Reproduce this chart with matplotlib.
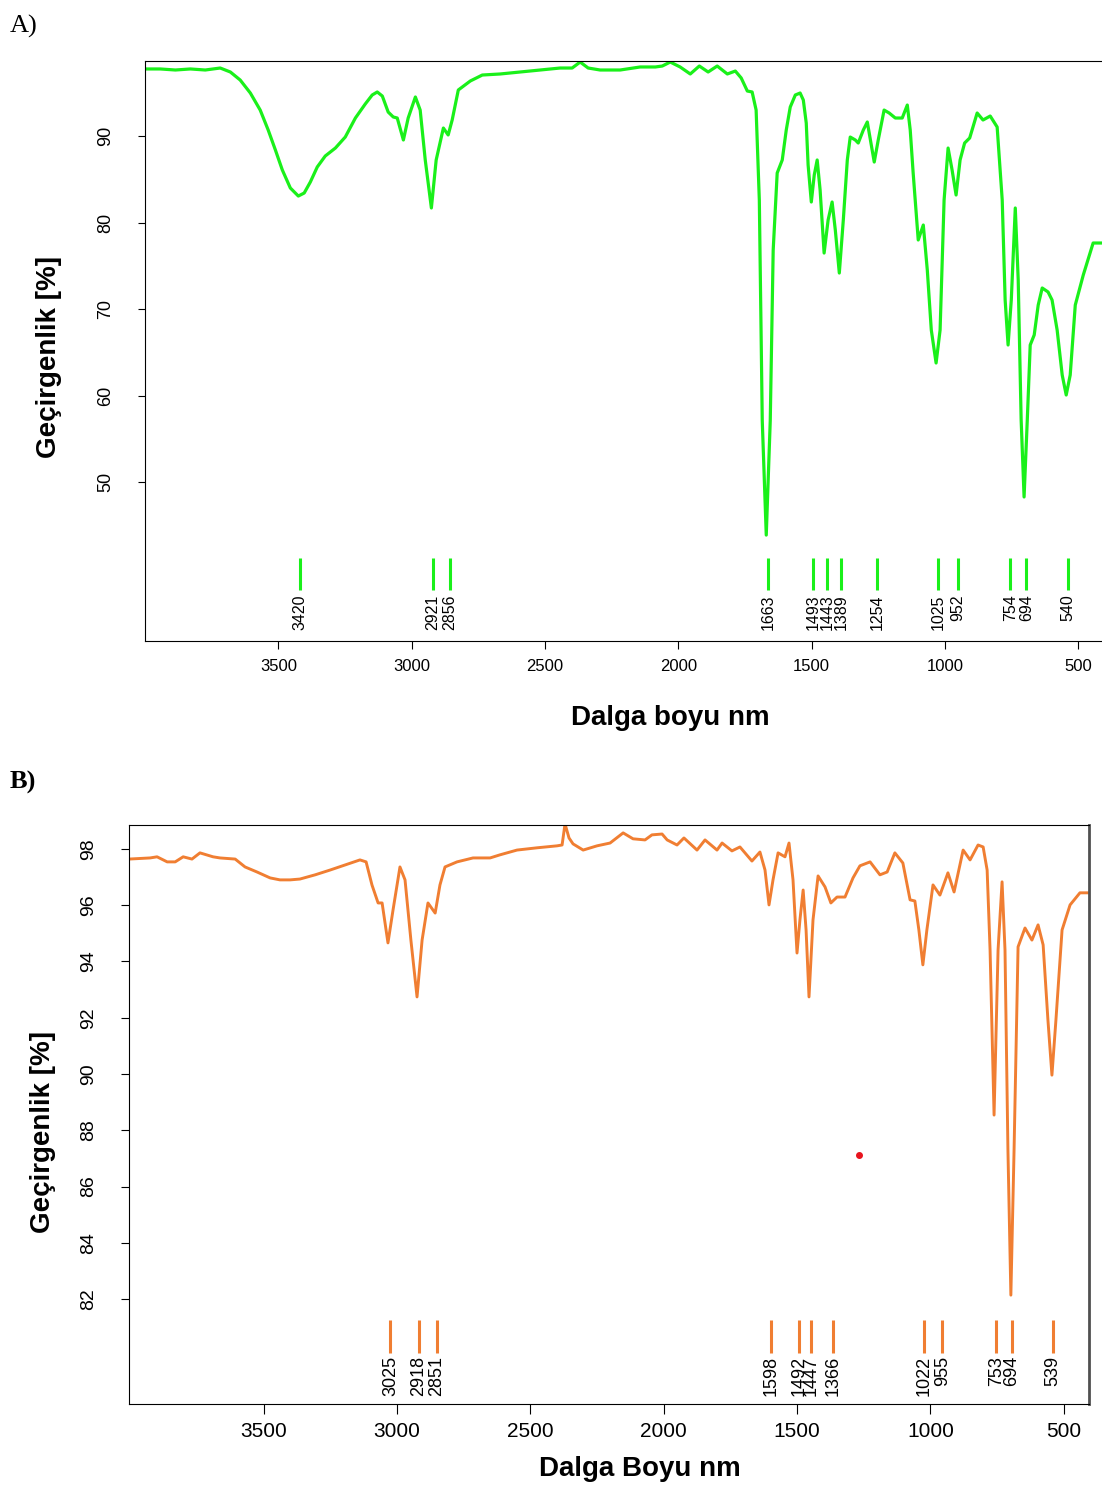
import matplotlib
matplotlib.use('Agg')
import matplotlib.pyplot as plt

plt.rcParams['font.family'] = ['Liberation Sans', 'DejaVu Sans']

# A) spektrum (dalga sayisi, gecirgenlik)
wA = [3999, 3943, 3886, 3830, 3774, 3718, 3680, 3643, 3605, 3568, 3538, 3511, 3485,
      3455, 3425, 3403, 3380, 3354, 3324, 3286, 3249, 3211, 3174, 3148, 3129, 3110,
      3088, 3069, 3054, 3031, 3013, 2986, 2968, 2949, 2926, 2908, 2881, 2863, 2848,
      2825, 2780, 2735, 2668, 2593, 2518, 2443, 2398, 2368, 2338, 2293, 2218, 2143,
      2086, 2060, 2030, 1993, 1955, 1921, 1888, 1854, 1816, 1786, 1764, 1741, 1723,
      1708, 1696, 1685, 1670, 1655, 1644, 1629, 1610, 1595, 1580, 1561, 1543, 1531,
      1520, 1513, 1501, 1490, 1479, 1468, 1453, 1438, 1423, 1411, 1396, 1381, 1366,
      1355, 1336, 1325, 1306, 1291, 1276, 1265, 1250, 1228, 1209, 1186, 1160, 1141,
      1130, 1119, 1100, 1081, 1066, 1051, 1033, 1018, 1003, 988, 973, 958, 943, 926,
      907, 879, 857, 830, 804, 785, 774, 763, 751, 736, 725, 714, 703, 691, 680, 665,
      650, 635, 613, 598, 579, 560, 545, 530, 511, 481, 444, 410]
tA = [97.75, 97.75, 97.63, 97.75, 97.63, 97.86, 97.40, 96.47, 94.97, 93.0, 90.69, 88.38,
      86.07, 83.99, 83.06, 83.41, 84.68, 86.42, 87.69, 88.61, 89.88, 92.08, 93.70, 94.74,
      95.09, 94.62, 92.77, 92.20, 92.08, 89.54, 92.08, 94.51, 93.0, 87.23, 81.68, 87.23,
      90.92, 90.12, 91.85, 95.32, 96.36, 97.05, 97.17, 97.40, 97.63, 97.86, 97.86, 98.55,
      97.86, 97.63, 97.63, 97.98, 97.98, 98.09, 98.55, 97.98, 97.17, 98.09, 97.40, 98.09,
      97.17, 97.51, 96.71, 95.20, 95.09, 93.0, 82.6, 57.1, 43.87, 57.1, 76.8, 85.72,
      87.23, 90.69, 93.35, 94.74, 94.97, 94.16, 91.50, 86.65, 82.37, 85.49, 87.23, 83.76,
      76.47, 80.29, 82.37, 79.13, 74.16, 80.29, 87.23, 89.88, 89.54, 89.19, 90.69, 91.62,
      88.96, 86.99, 89.54, 93.0, 92.66, 92.08, 92.08, 93.58, 90.69, 85.72, 77.98, 79.71,
      74.51, 67.57, 63.76, 67.57, 82.6, 88.61, 86.07, 83.18, 87.23, 89.19, 89.77, 92.66,
      91.85, 92.31, 91.04, 82.6, 71.04, 65.84, 71.04, 81.68, 73.35, 57.17, 48.27, 57.17,
      65.84, 67.0, 70.46, 72.43, 71.97, 71.04, 67.57, 62.37, 60.06, 62.37, 70.46, 73.93,
      77.63, 77.63]
piklerA = [3420, 2921, 2856, 1663, 1493, 1443, 1389, 1254, 1025, 952, 754, 694, 540]

# B) spektrum
wB = [4005, 3926, 3900, 3862, 3832, 3802, 3769, 3739, 3690, 3664, 3607, 3570, 3525,
      3476, 3439, 3401, 3364, 3307, 3251, 3195, 3139, 3116, 3094, 3071, 3056, 3034,
      3015, 2989, 2970, 2948, 2925, 2906, 2884, 2857, 2839, 2820, 2775, 2715, 2651,
      2614, 2550, 2475, 2400, 2381, 2370, 2355, 2340, 2302, 2250, 2201, 2152, 2115,
      2070, 2044, 2006, 1987, 1950, 1924, 1875, 1845, 1800, 1781, 1744, 1714, 1669,
      1639, 1620, 1605, 1590, 1571, 1545, 1530, 1515, 1500, 1489, 1477, 1466, 1455,
      1440, 1421, 1395, 1373, 1350, 1320, 1290, 1264, 1226, 1189, 1162, 1133, 1103,
      1076, 1058, 1043, 1028, 1013, 990, 964, 934, 911, 877, 851, 821, 802, 787, 776,
      761, 746, 731, 720, 709, 698, 686, 671, 645, 619, 596, 577, 559, 544, 529, 506,
      476, 439, 405]
tB = [97.64, 97.68, 97.72, 97.54, 97.54, 97.72, 97.64, 97.86, 97.72, 97.68, 97.64, 97.36,
      97.18, 96.97, 96.90, 96.90, 96.93, 97.08, 97.25, 97.43, 97.61, 97.54, 96.72, 96.08,
      96.08, 94.66, 95.83, 97.36, 96.90, 94.76, 92.74, 94.76, 96.08, 95.72, 96.72, 97.36,
      97.54, 97.68, 97.68, 97.79, 97.96, 98.04, 98.11, 98.14, 98.89, 98.39, 98.18, 97.96,
      98.11, 98.21, 98.57, 98.36, 98.32, 98.50, 98.53, 98.32, 98.14, 98.39, 97.96, 98.32,
      97.96, 98.21, 97.93, 98.07, 97.57, 97.89, 97.25, 96.01, 96.90, 97.86, 97.72, 98.21,
      96.90, 94.30, 95.48, 96.54, 95.12, 92.74, 95.48, 97.04, 96.65, 96.08, 96.29, 96.29,
      96.97, 97.40, 97.54, 97.08, 97.18, 97.86, 97.50, 96.19, 96.15, 95.12, 93.88, 95.12,
      96.72, 96.36, 97.15, 96.47, 97.96, 97.61, 98.14, 98.07, 97.25, 94.41, 88.54, 94.41,
      96.83, 94.41, 87.30, 82.14, 87.30, 94.52, 95.19, 94.76, 95.30, 94.59, 91.92, 89.96,
      91.92, 95.12, 96.01, 96.44, 96.44]
piklerB = [3025, 2918, 2851, 1598, 1492, 1447, 1366, 1022, 955, 753, 694, 539]
nokta_w, nokta_t = 1268, 87.12

yesil = '#1AF01A'
turuncu = '#F07E32'

fig = plt.figure(figsize=(11.02, 14.88), dpi=100)

# ---- A ----
ax1 = fig.add_axes([0.1316, 0.5692, 0.871, 0.3898])
ax1.plot(wA, tA, color=yesil, lw=2.3, solid_joinstyle='round')
ax1.vlines(piklerA, 37.5, 41.2, color=yesil, lw=2.2)
for p in piklerA:
    ax1.text(p, 37.0, str(p), rotation=90, ha='center', va='top', fontsize=11.5)
ax1.set_xlim(4000, 400)
ax1.set_ylim(31.62, 98.67)
ax1.set_xticks([3500, 3000, 2500, 2000, 1500, 1000, 500])
ax1.set_yticks([50, 60, 70, 80, 90])
ax1.tick_params(axis='x', length=6, pad=7, labelsize=12)
ax1.tick_params(axis='y', length=5, pad=17, labelsize=13, labelrotation=90)
for lb in ax1.get_yticklabels():
    lb.set_va('center')
ax1.spines['right'].set_visible(False)
ax1.set_xlabel('Dalga boyu nm', fontsize=20, fontweight='bold')
ax1.xaxis.set_label_coords(0.547, -0.11)
ax1.set_ylabel('Geçirgenlik [%]', fontsize=20, fontweight='bold')
ax1.yaxis.set_label_coords(-0.087, 0.49)
fig.text(0.009, 0.99, 'A)', family='Liberation Serif', fontsize=19, va='top')

# ---- B ----
ax2 = fig.add_axes([0.1171, 0.05645, 0.8711, 0.3891])
ax2.plot(wB, tB, color=turuncu, lw=2.1, solid_joinstyle='round')
ax2.vlines(piklerB, 80.08, 81.25, color=turuncu, lw=2.2)
for p in piklerB:
    ax2.text(p, 79.98, str(p), rotation=90, ha='center', va='top', fontsize=13)
ax2.plot([nokta_w], [nokta_t], 'o', color='#E8141E', ms=4)
ax2.set_xlim(4005, 405)
ax2.set_ylim(78.27, 98.85)
ax2.set_xticks([3500, 3000, 2500, 2000, 1500, 1000, 500])
ax2.set_yticks([82, 84, 86, 88, 90, 92, 94, 96, 98])
ax2.tick_params(axis='x', length=7, pad=6, labelsize=15)
ax2.tick_params(axis='y', length=6, pad=17, labelsize=14, labelrotation=90)
for lb in ax2.get_yticklabels():
    lb.set_va('center')
ax2.spines['right'].set_color('#505050')
ax2.spines['right'].set_linewidth(2)
ax2.set_xlabel('Dalga Boyu nm', fontsize=20, fontweight='bold')
ax2.xaxis.set_label_coords(0.532, -0.09)
ax2.set_ylabel('Geçirgenlik [%]', fontsize=20, fontweight='bold')
ax2.yaxis.set_label_coords(-0.076, 0.47)
fig.text(0.009, 0.482, 'B)', family='Liberation Serif', fontsize=19,
         fontweight='bold', va='top')

fig.savefig('out.png', dpi=100)
